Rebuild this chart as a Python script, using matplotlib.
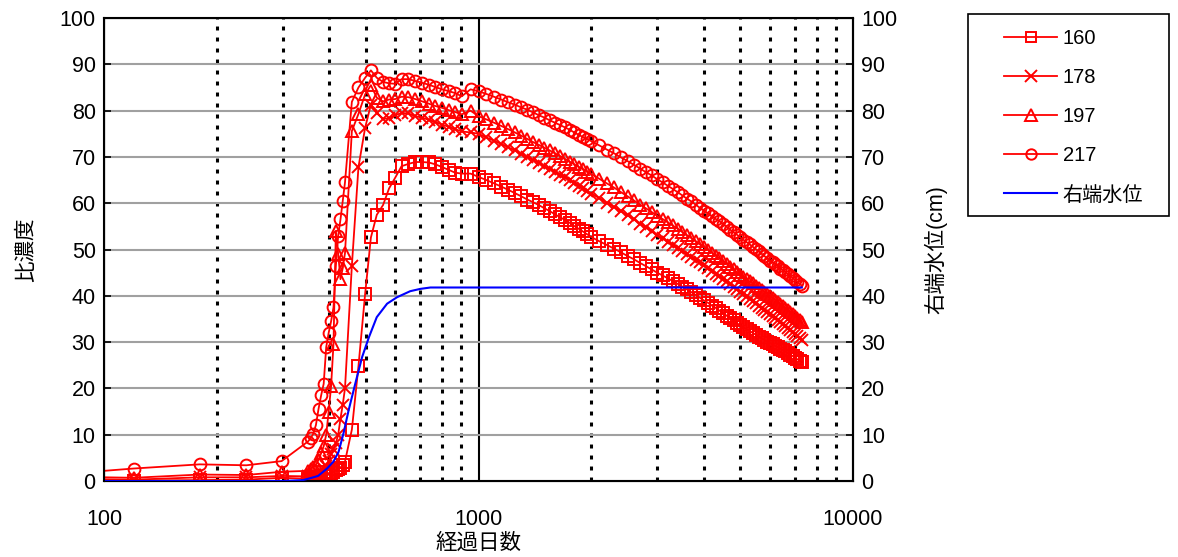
import matplotlib
matplotlib.use('Agg')
import matplotlib.pyplot as plt
from matplotlib.lines import Line2D
from matplotlib.patches import Rectangle
from matplotlib.ticker import LogLocator, NullFormatter, FixedLocator

plt.rcParams['font.family'] = ['Liberation Sans', 'Noto Sans CJK JP']

# 経過日数 (common output days)
days = [60, 120, 180, 240, 298,
        350, 356, 362, 368, 374, 380, 386, 392, 398, 404, 410, 416, 422, 428, 434, 440,
        459, 478, 498, 516, 535, 556, 577, 599, 623, 650, 678, 707, 737, 767, 800, 833, 866, 902, 952, 1000,
        1050, 1100, 1150, 1200, 1250, 1300, 1350, 1400, 1450, 1500,
        1550, 1600, 1650, 1700, 1750, 1800, 1850, 1900, 1950, 2000,
        2100, 2200, 2300, 2400, 2500, 2600, 2700, 2800, 2900, 3000,
        3100, 3200, 3300, 3400, 3500, 3600, 3700, 3800, 3900, 4000,
        4100, 4200, 4300, 4400, 4500, 4600, 4700, 4800, 4900, 5000,
        5100, 5200, 5300, 5400, 5500, 5600, 5700, 5800, 5900, 6000,
        6100, 6200, 6300, 6400, 6500, 6600, 6700, 6800, 6900, 7000,
        7100, 7200, 7300]

s160 = [0.1, 0.1, 0.2, 0.3, 0.7,
        0.5, 0.6, 0.7, 0.7, 0.8, 0.8, 1.0, 1.1, 1.4, 1.7, 2.0, 2.3, 2.6, 2.9, 3.5, 4.2,
        11.1, 24.8, 40.4, 52.6, 57.5, 59.6, 63.2, 65.5, 68.0, 68.5, 68.9, 68.9, 68.8, 68.4, 67.8, 67.2, 66.6, 66.4, 66.4, 65.7,
        65.0, 64.3, 63.6, 62.9, 62.2, 61.5, 60.8, 60.2, 59.6, 58.9,
        58.3, 57.6, 57.0, 56.4, 55.8, 55.1, 54.5, 53.9, 53.3, 52.7,
        51.8, 51.0, 50.2, 49.4, 48.6, 47.9, 47.1, 46.4, 45.7, 45.0,
        44.4, 43.8, 43.2, 42.6, 42.0, 41.4, 40.8, 40.2, 39.6, 39.0,
        38.5, 37.9, 37.4, 36.8, 36.3, 35.7, 35.2, 34.7, 34.1, 33.6,
        33.2, 32.8, 32.4, 32.0, 31.6, 31.2, 30.8, 30.5, 30.1, 29.8,
        29.5, 29.2, 28.9, 28.6, 28.3, 28.0, 27.6, 27.3, 27.0, 26.6,
        26.3, 26.0, 25.7]

s178 = [0.6, 0.3, 0.8, 0.8, 1.1,
        1.0, 1.2, 1.4, 1.6, 1.8, 2.1, 2.5, 3.2, 4.3, 5.8, 7.0, 8.2, 10.0, 13.5, 16.5, 20.0,
        46.5, 67.8, 76.3, 81.3, 79.5, 78.2, 78.4, 79.0, 79.5, 79.4, 78.8, 78.5, 78.0, 77.5, 77.0, 76.5, 76.0, 75.5, 75.3, 75.0,
        74.2, 73.5, 72.8, 72.1, 71.4, 70.7, 70.0, 69.3, 68.7, 68.0,
        67.4, 66.8, 66.2, 65.6, 65.0, 64.4, 63.8, 63.2, 62.6, 62.1,
        61.1, 60.1, 59.2, 58.3, 57.4, 56.5, 55.6, 54.8, 53.9, 53.1,
        52.4, 51.7, 51.0, 50.3, 49.6, 49.0, 48.4, 47.8, 47.2, 46.6,
        46.0, 45.4, 44.8, 44.3, 43.7, 43.1, 42.5, 41.9, 41.4, 40.9,
        40.4, 39.9, 39.4, 38.9, 38.4, 37.9, 37.4, 36.9, 36.5, 36.1,
        35.6, 35.2, 34.8, 34.3, 33.9, 33.5, 33.0, 32.6, 32.2, 31.7,
        31.3, 30.8, 30.4]

s197 = [1.1, 0.7, 1.4, 1.3, 2.0,
        2.2, 2.6, 3.0, 3.5, 4.6, 6.0, 7.5, 10.0, 15.0, 20.5, 29.6, 54.0, 49.0, 43.6, 46.0, 49.2,
        75.6, 79.3, 83.5, 85.5, 82.8, 82.0, 82.4, 82.5, 83.0, 82.9, 82.5, 82.0, 81.5, 81.0, 80.6, 80.1, 79.7, 79.2, 80.0, 78.8,
        78.1, 77.4, 76.7, 76.0, 75.3, 74.6, 73.9, 73.2, 72.6, 72.0,
        71.4, 70.8, 70.2, 69.6, 69.0, 68.4, 67.9, 67.3, 66.8, 66.3,
        65.3, 64.3, 63.4, 62.4, 61.5, 60.6, 59.7, 58.9, 58.1, 57.3,
        56.6, 55.9, 55.2, 54.5, 53.8, 53.1, 52.5, 51.8, 51.1, 50.5,
        49.9, 49.3, 48.7, 48.1, 47.5, 46.9, 46.3, 45.7, 45.1, 44.5,
        44.0, 43.6, 43.1, 42.7, 42.2, 41.7, 41.3, 40.8, 40.4, 39.9,
        39.5, 39.1, 38.6, 38.2, 37.8, 37.3, 36.9, 36.5, 36.0, 35.6,
        35.2, 34.7, 34.3]

s217 = [0.8, 2.7, 3.6, 3.4, 4.3,
        8.5, 9.2, 10.2, 12.1, 15.6, 18.5, 21.0, 28.9, 32.0, 34.5, 37.5, 46.5, 53.0, 56.5, 60.5, 64.5,
        81.9, 85.0, 87.1, 88.7, 87.1, 86.2, 85.9, 85.8, 86.8, 86.8, 86.4, 86.0, 85.6, 85.1, 84.6, 84.2, 83.8, 83.1, 84.6, 84.2,
        83.6, 83.0, 82.4, 81.8, 81.3, 80.7, 80.2, 79.6, 79.0, 78.5,
        77.9, 77.4, 76.9, 76.4, 75.9, 75.3, 74.8, 74.3, 73.9, 73.4,
        72.5, 71.6, 70.8, 69.9, 69.1, 68.3, 67.5, 66.7, 66.0, 65.2,
        64.5, 63.8, 63.1, 62.4, 61.7, 61.0, 60.4, 59.7, 59.0, 58.4,
        57.8, 57.2, 56.6, 56.1, 55.5, 54.9, 54.3, 53.7, 53.2, 52.6,
        52.1, 51.6, 51.1, 50.6, 50.1, 49.6, 49.1, 48.6, 48.1, 47.6,
        47.2, 46.8, 46.4, 45.9, 45.5, 45.1, 44.7, 44.3, 43.9, 43.4,
        43.0, 42.6, 42.2]

# 右端水位 (cm)
wl_days = [60, 300, 340, 355, 373, 394, 410, 423, 436, 450, 471, 489, 510, 535, 570, 606, 657, 699, 744, 800, 7300]
wl = [0, 0, 0.2, 0.6, 1.1, 2.7, 4.2, 6.3, 10.3, 15.3, 21.7, 26.8, 31.1, 35.4, 38.3, 39.7, 41.0, 41.5, 41.8, 41.8, 41.8]

fig = plt.figure(figsize=(11.78, 5.57), dpi=100)
ax = fig.add_axes([0.0883, 0.1364, 0.6358, 0.8312])

red = '#ff0000'
mk = dict(color=red, lw=1.3, mfc='none', mec=red, mew=1.4)
ax.plot(days, s160, marker='s', ms=8, **mk)
ax.plot(days, s178, marker='x', ms=9, **mk)
ax.plot(days, s197, marker='^', ms=9, **mk)
ax.plot(days, s217, marker='o', ms=8.5, **mk)

ax.set_xscale('log')
ax.set_xlim(100, 10000)
ax.set_ylim(0, 100)
ax.set_yticks(range(0, 101, 10))
ax.xaxis.set_major_locator(FixedLocator([100, 1000, 10000]))
ax.set_xticklabels(['100', '1000', '10000'])
ax.xaxis.set_minor_locator(LogLocator(base=10, subs=range(2, 10)))
ax.xaxis.set_minor_formatter(NullFormatter())

# grid like the excel sheet
ax.yaxis.grid(True, color='#a0a0a0', lw=1.5)
ax.xaxis.grid(True, which='major', color='black', lw=1.5)
ax.xaxis.grid(True, which='minor', color='black', lw=2.2, linestyle=(0, (1.3, 2.3)))
ax.set_axisbelow(True)
for sp in ax.spines.values():
    sp.set_linewidth(1.5)
    sp.set_color('black')

ax.tick_params(axis='x', which='both', length=0, pad=20, labelsize=15.5)
ax.tick_params(axis='y', direction='in', length=5, width=1.2, labelsize=15.5, pad=6)
ax.set_xlabel('経過日数', fontsize=15.5, labelpad=2)
ax.set_ylabel('比濃度', fontsize=15.5, labelpad=16)

# water level on the right axis
ax2 = ax.twinx()
ax2.plot(wl_days, wl, color='#0000ff', lw=1.5)
ax2.set_xlim(100, 10000)
ax2.set_ylim(0, 100)
ax2.set_yticks(range(0, 101, 10))
ax2.tick_params(axis='y', direction='in', length=5, width=1.2, labelsize=15.5, pad=6)
ax2.set_ylabel('右端水位(cm)', fontsize=15.5, labelpad=19)

# legend box
fig.patches.append(Rectangle((0.8217, 0.6122), 0.1706, 0.3627, transform=fig.transFigure,
                             fill=False, edgecolor='black', lw=1.2))
handles = [Line2D([], [], marker='s', ms=7, **mk),
           Line2D([], [], marker='x', ms=8, **mk),
           Line2D([], [], marker='^', ms=8, **mk),
           Line2D([], [], marker='o', ms=7.5, **mk),
           Line2D([], [], color='#0000ff', lw=1.5)]
fig.legend(handles, ['160', '178', '197', '217', '右端水位'], loc='upper left',
           bbox_to_anchor=(0.839, 0.977), frameon=False, fontsize=14.5,
           handlelength=2.6, handletextpad=0.3, labelspacing=1.0, borderpad=0.3)

plt.savefig('out.png', dpi=100)
